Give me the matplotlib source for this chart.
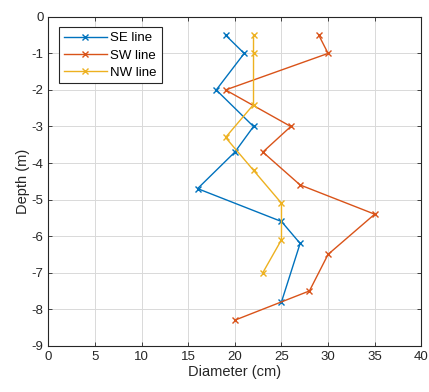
import numpy as np
import matplotlib
matplotlib.use("Agg")
import matplotlib.pyplot as plt

# data
se_diam = [19, 21, 18, 22, 20, 16, 25, 27, 25]
se_depth = [-0.5, -1, -2, -3, -3.7, -4.7, -5.6, -6.2, -7.8]
sw_diam = [29, 30, 19, 26, 23, 27, 35, 30, 28, 20]
sw_depth = [-0.5, -1, -2, -3, -3.7, -4.6, -5.4, -6.5, -7.5, -8.3]
nw_diam = [22, 22, 22, 19, 22, 25, 25, 23]
nw_depth = [-0.5, -1, -2.4, -3.3, -4.2, -5.1, -6.1, -7.0]
x_ticks = list(range(0, 45, 5))
y_ticks = list(range(-9, 1))

plt.rcParams['font.family'] = ['Liberation Sans', 'DejaVu Sans']
plt.rcParams['axes.unicode_minus'] = False

fig = plt.figure(figsize=(4.29, 3.92), dpi=100)
ax = fig.add_axes([0.113, 0.118, 0.869, 0.839])

ax.plot(se_diam, se_depth, color='#0072BD', marker='x', lw=1, ms=5, label='SE line')
ax.plot(sw_diam, sw_depth, color='#D95319', marker='x', lw=1, ms=5, label='SW line')
ax.plot(nw_diam, nw_depth, color='#EDB120', marker='x', lw=1, ms=5, label='NW line')

ax.set_xlim(0, 40)
ax.set_ylim(-9, 0)
ax.set_xticks(x_ticks)
ax.set_yticks(y_ticks)
ax.grid(True, color='#d9d9d9', lw=0.7)
ax.set_axisbelow(True)
ax.tick_params(direction='in', top=True, right=True, labelsize=9.5,
               colors='#262626', length=3, width=0.6)
for s in ax.spines.values():
    s.set_color('#262626')
    s.set_linewidth(0.8)
ax.set_xlabel('Diameter (cm)', fontsize=10.5, color='#262626', labelpad=2)
ax.set_ylabel('Depth (m)', fontsize=10.5, color='#262626', labelpad=1.5)

leg = ax.legend(loc='upper left', fontsize=9.5, fancybox=False, framealpha=1,
                edgecolor='#262626', borderpad=0.35, handlelength=3.3,
                handletextpad=0.25, labelspacing=0.38, borderaxespad=0.8)
leg.get_frame().set_linewidth(0.8)

fig.savefig('out.png', dpi=100)
